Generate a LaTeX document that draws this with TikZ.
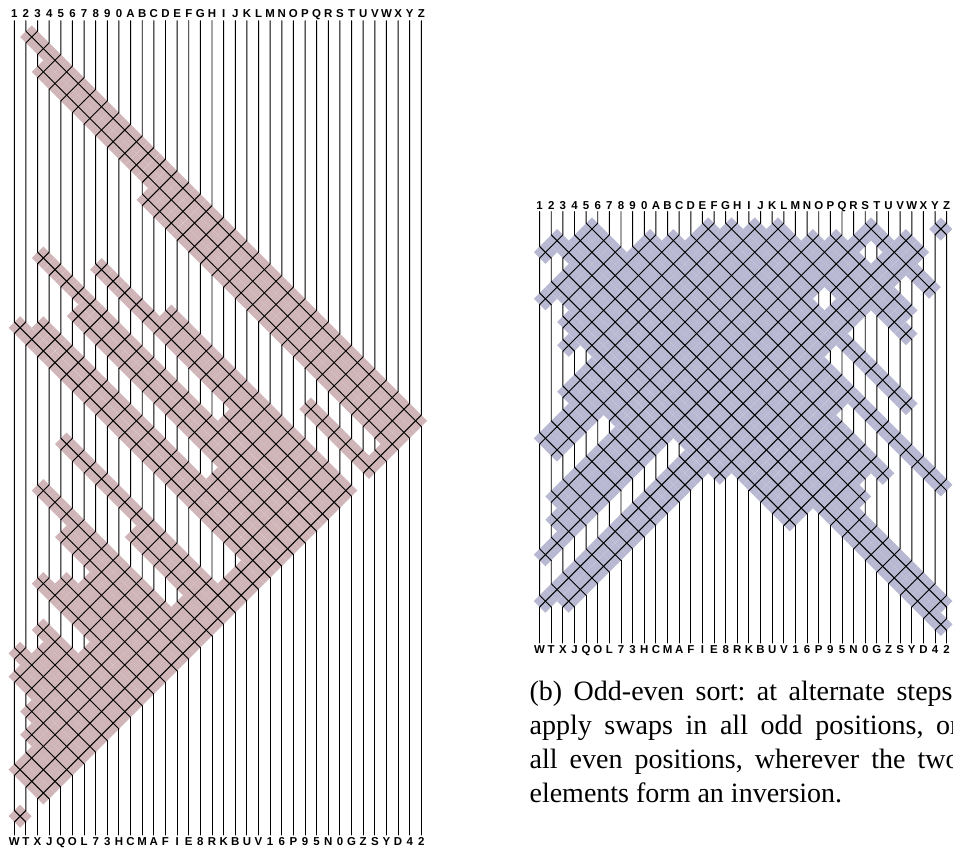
\documentclass[tikz,border=0pt]{standalone}
\usepackage{fontspec}
\setmainfont{Liberation Serif}
\newfontfamily\labfont{Liberation Sans}
\definecolor{shadeL}{RGB}{208,181,184}
\definecolor{shadeR}{RGB}{184,184,210}
\def\toplist{1,2,3,4,5,6,7,8,9,0,A,B,C,D,E,F,G,H,I,J,K,L,M,N,O,P,Q,R,S,T,U,V,W,X,Y,Z}
\def\botlist{W,T,X,J,Q,O,L,7,3,H,C,M,A,F,I,E,8,R,K,B,U,V,1,6,P,9,5,N,0,G,Z,S,Y,D,4,2}
\let\doswap\relax
% ranks of the top labels in the bottom order
\foreach \ch [count=\nn] in \botlist {\expandafter\xdef\csname rk\ch\endcsname{\nn}}
\foreach \ch [count=\nn] in \toplist {%
  \expandafter\xdef\csname sO\nn\endcsname{\csname rk\ch\endcsname}%
  \expandafter\xdef\csname sS\nn\endcsname{\csname rk\ch\endcsname}}
\newcount\swI \newcount\swR \newcount\swP \newcount\swK \newcount\swM
% odd-even sort
\gdef\oelist{}
\def\oerow{%
  \swI=\ifodd\swR 2\else 1\fi\relax
  \loop\ifnum\swI<36
    \ifnum\csname sO\number\swI\endcsname>\csname sO\number\numexpr\swI+1\relax\endcsname\relax
      \edef\tmpa{\csname sO\number\swI\endcsname}%
      \edef\tmpb{\csname sO\number\numexpr\swI+1\relax\endcsname}%
      \expandafter\let\csname sO\number\swI\endcsname\tmpb
      \expandafter\let\csname sO\number\numexpr\swI+1\relax\endcsname\tmpa
      \xdef\oelist{\oelist\doswap{\number\swI}{\number\swR}}%
    \fi
    \advance\swI by 2
  \repeat}
\def\oeouter{\ifnum\swR<37 \oerow \advance\swR by 1 \expandafter\oeouter\fi}
\swR=0 \oeouter
% selection by bubbling the largest, one diagonal for each pass
\gdef\sellist{}
\def\selpass{%
  \swM=\numexpr37-\swK\relax
  \swI=1
  \loop\ifnum\swI<37
    \ifnum\csname sS\number\swI\endcsname=\swM \swP=\swI \fi
    \advance\swI by 1
  \repeat
  \swI=\swP
  \loop\ifnum\swI<\swM
    \edef\tmpb{\csname sS\number\numexpr\swI+1\relax\endcsname}%
    \expandafter\let\csname sS\number\swI\endcsname\tmpb
    \xdef\sellist{\sellist\doswap{\number\swI}{\number\numexpr\swI-4+2*\swK\relax}}%
    \advance\swI by 1
  \repeat
  \expandafter\edef\csname sS\number\swM\endcsname{\number\swM}}
\def\selouter{\ifnum\swK<36 \selpass \advance\swK by 1 \expandafter\selouter\fi}
\swK=1 \selouter
\def\sw{11.63}
\def\rd{11.6}
\def\shadeswap#1#2{\fill[swapshade] ({\xo+(#1-0.5)*\sw},{\yo+#2*\sw}) ++(-\rd,0) -- ++(\rd,-\rd) -- ++(\rd,\rd) -- ++(-\rd,\rd) -- cycle;}
\def\lineswap#1#2{%
  \pgfmathsetmacro\xa{\xo+(#1-1)*\sw}\pgfmathsetmacro\xb{\xa+\sw}%
  \pgfmathsetmacro\ya{\yo+(#2-0.5)*\sw}\pgfmathsetmacro\yb{\ya+\sw}%
  \draw[wire] (\xa,\csname wy#1\endcsname) -- (\xa,\ya) -- (\xb,\yb);
  \draw[wire] (\xb,\csname wy\the\numexpr#1+1\relax\endcsname) -- (\xb,\ya) -- (\xa,\yb);
  \expandafter\xdef\csname wy#1\endcsname{\yb}%
  \expandafter\xdef\csname wy\the\numexpr#1+1\relax\endcsname{\yb}}
% #1 x of wire 1, #2 y of row 0, #3 wire top, #4 wire bottom, #5 colour, #6 swap list, #7 top baseline, #8 bottom baseline, #9 name
\def\sortdiagram#1#2#3#4#5#6#7#8#9{%
  \def\xo{#1}\def\yo{#2}%
  \tikzset{swapshade/.style={fill=#5}}%
  \let\doswap\shadeswap #6%
  \foreach \i in {1,...,36}{\expandafter\xdef\csname wy\i\endcsname{#3}}%
  \let\doswap\lineswap #6%
  \foreach \i in {1,...,36}{\draw[wire] ({\xo+(\i-1)*\sw},\csname wy\i\endcsname) -- ({\xo+(\i-1)*\sw},#4);}%
  \foreach \ch [count=\nn] in \toplist {\node[wirelabel] (#9t\nn) at ({\xo+(\nn-1)*\sw},#7) {\ch};}%
  \foreach \ch [count=\nn] in \botlist {\node[wirelabel] (#9b\nn) at ({\xo+(\nn-1)*\sw},#8) {\ch};}}
\frenchspacing
\begin{document}
\begin{tikzpicture}[x=0.75pt,y=-0.75pt,
  wire/.style={line width=0.72pt,black,line join=round,line cap=round},
  wirelabel/.style={anchor=base,inner sep=0pt,font=\labfont\bfseries\fontsize{8.6pt}{9pt}\selectfont},
  captionline/.style={anchor=base west,inner sep=0pt,font=\frenchspacing\fontsize{21pt}{25pt}\selectfont}]
\useasboundingbox (0,0) rectangle (953,850);
\sortdiagram{14.3}{37}{20.7}{835}{shadeL}{\sellist}{17.5}{845.5}{l}
\sortdiagram{539.6}{229}{211.5}{643}{shadeR}{\oelist}{209.7}{653.5}{r}
\begin{scope}
\clip (0,0) rectangle (953,850);
\node[captionline] (cap1) at (529.3,700) {\makebox[322.5pt][s]{(b) Odd-even sort: at alternate steps,}};
\node[captionline] (cap2) at (529.3,734) {\makebox[322.5pt][s]{apply swaps in all odd positions, or}};
\node[captionline] (cap3) at (529.3,768) {\makebox[322.5pt][s]{all even positions, wherever the two}};
\node[captionline] (cap4) at (529.3,802) {elements form an inversion.};
\end{scope}
\end{tikzpicture}
\end{document}
